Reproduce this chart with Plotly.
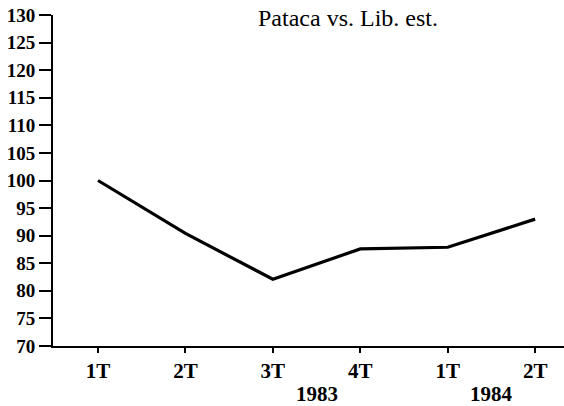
import plotly.graph_objects as go

quarters = ["1T", "2T", "3T", "4T", "1T", "2T"]
years = ["1983", "1983", "1983", "1983", "1984", "1984"]
values = [100.0, 90.4, 82.1, 87.6, 87.9, 93.0]
title_text = "Pataca vs. Lib. est."
y_ticks = list(range(70, 131, 5))

xs = list(range(len(quarters)))

fig = go.Figure()
fig.add_trace(go.Scatter(
    x=xs, y=values, mode="lines",
    line=dict(color="black", width=3.2),
    showlegend=False, hoverinfo="skip",
))

serif = "'Liberation Serif', 'Times New Roman', 'DejaVu Serif', serif"

# year labels centred under their quarter groups
groups = {}
for i, yr in enumerate(years):
    groups.setdefault(yr, []).append(i)
for yr, idx in groups.items():
    xp = (idx[-2] + idx[-1]) / 2 if yr == "1983" else (idx[0] + idx[-1]) / 2
    fig.add_annotation(
        x=xp, xref="x", y=0, yref="paper", yshift=-48, yanchor="middle",
        text="<b>%s</b>" % yr, showarrow=False,
        font=dict(family=serif, size=21, color="black"),
    )

fig.add_annotation(
    x=2.86, xref="x", y=1, yref="paper", yshift=-3, yanchor="middle", xanchor="center",
    text=title_text, showarrow=False,
    font=dict(family=serif, size=24, color="black"),
)

fig.update_layout(
    width=564, height=406,
    margin=dict(l=53, r=0, t=15, b=60),
    paper_bgcolor="white", plot_bgcolor="white",
    xaxis=dict(
        range=[-0.515, 5.33],
        tickmode="array", tickvals=xs, ticktext=["<b>%s</b>" % q for q in quarters],
        showgrid=False, zeroline=False,
        showline=True, linecolor="black", linewidth=2,
        ticks="outside", ticklen=5, tickwidth=2, tickcolor="black",
        tickfont=dict(family=serif, size=21, color="black"),
    ),
    yaxis=dict(
        range=[70, 130],
        tickmode="array", tickvals=y_ticks, ticktext=["<b>%d</b>" % v for v in y_ticks],
        showgrid=False, zeroline=False,
        showline=True, linecolor="black", linewidth=2,
        ticks="outside", ticklen=12, tickwidth=2, tickcolor="black",
        tickfont=dict(family=serif, size=19, color="black"),
    ),
)

fig.write_html("out.html", config={"displayModeBar": False},
               post_script="document.body.style.margin='0';")
